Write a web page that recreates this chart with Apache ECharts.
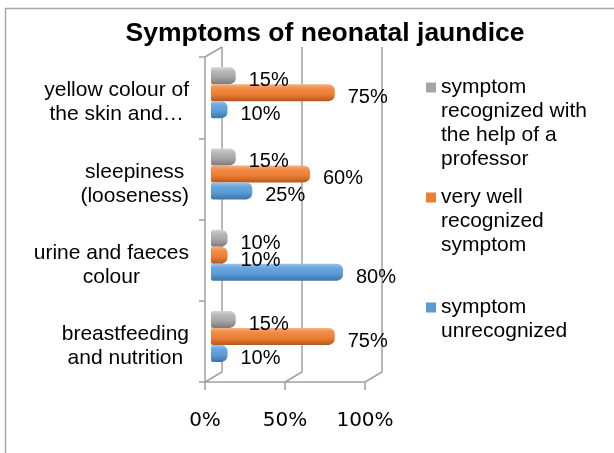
<!DOCTYPE html>
<html>
<head>
<meta charset="utf-8">
<title>Symptoms of neonatal jaundice</title>
<script src="https://cdn.jsdelivr.net/npm/echarts@6/dist/echarts.min.js"></script>
<style>
  html, body { margin: 0; padding: 0; background: #fff; }
  #chart { width: 614px; height: 453px; }
</style>
</head>
<body>
<div id="chart"></div>
<script>
// categories, bottom to top as the y axis counts them
const categories = [
  'breastfeeding\nand nutrition',
  'urine and faeces\ncolour',
  'sleepiness\n(looseness)',
  'yellow colour of\nthe skin and…'
]

const unrecognized = [10, 80, 25, 10]
const veryWell = [75, 10, 60, 75]
const withHelp = [15, 10, 15, 15]

const seriesNames = [
  'symptom recognized with the help of a professor',
  'very well recognized symptom',
  'symptom unrecognized'
]
const legendLines = [
  ['symptom', 'recognized with', 'the help of a', 'professor'],
  ['very well', 'recognized', 'symptom'],
  ['symptom', 'unrecognized']
]
const xTicks = [0, 50, 100]

const axisGray = '#a0a0a0'
const lineH = 24

const cylinder = (stops) => ({
  type: 'linear', x: 0, y: 0, x2: 0, y2: 1,
  colorStops: stops.map((c, i) => ({ offset: [0, 0.25, 0.6, 1][i], color: c }))
})

const makeBar = (name, data, flat, stops) => ({
  name,
  type: 'bar',
  xAxisIndex: 0,
  yAxisIndex: 0,
  data,
  color: flat,
  barWidth: 17,
  barGap: '0%',
  itemStyle: { color: cylinder(stops), borderRadius: [2, 6, 6, 2] },
  label: {
    show: true,
    position: 'right',
    distance: 13,
    offset: [0, 5],
    formatter: '{c}%',
    color: '#000',
    fontFamily: 'Liberation Sans',
    fontSize: 20
  }
})

// the legend text is centred on its icon, so blank lines in front push
// the first real line level with the icon
const makeLegend = (idx, iconY, color) => {
  const lines = legendLines[idx]
  const blanks = new Array(lines.length - 1).fill(' ')
  const total = blanks.length + lines.length
  return {
    orient: 'vertical',
    left: 426,
    top: iconY - (total * lineH) / 2,
    padding: 0,
    itemWidth: 10,
    itemHeight: 10,
    icon: 'rect',
    selectedMode: false,
    formatter: () => blanks.concat(lines).join('\n'),
    data: [{
      name: seriesNames[idx],
      itemStyle: { color },
      textStyle: {
        color: '#000',
        fontFamily: 'Liberation Sans',
        fontSize: 21,
        lineHeight: lineH
      }
    }]
  }
}

const chart = echarts.init(document.getElementById('chart'))

chart.setOption({
  backgroundColor: '#fff',
  animation: false,
  title: {
    text: 'Symptoms of neonatal jaundice',
    left: 320,
    textAlign: 'center',
    top: 15,
    textStyle: { fontFamily: 'Liberation Sans', fontWeight: 'bold', fontSize: 26.5, color: '#000' }
  },
  legend: [
    makeLegend(0, 87.5, '#a5a5a5'),
    makeLegend(1, 197.5, '#ed7d31'),
    makeLegend(2, 307.5, '#5b9bd5')
  ],
  grid: [
    // bars sit halfway into the depth of the 3D box
    { left: 211, top: 52, width: 165, height: 325 },
    // front axes
    { left: 205, top: 57, width: 160, height: 325 },
    // back wall
    { left: 222, top: 47, width: 160, height: 325 }
  ],
  xAxis: [
    { gridIndex: 0, type: 'value', min: 0, max: 100, show: false },
    {
      gridIndex: 1, type: 'value', min: 0, max: 100, interval: 50,
      axisLine: { show: true, lineStyle: { color: axisGray, width: 1.5 } },
      axisTick: { show: true, length: 8, lineStyle: { color: axisGray, width: 1.5 } },
      splitLine: { show: false },
      axisLabel: {
        margin: 29,
        color: '#000',
        fontFamily: 'DejaVu Sans',
        fontSize: 20,
        formatter: (v) => (xTicks.includes(v) ? v + '%' : '')
      }
    },
    {
      gridIndex: 2, type: 'value', min: 0, max: 100, interval: 50,
      axisLine: { show: false },
      axisTick: { show: false },
      axisLabel: { show: false },
      splitLine: { show: true, lineStyle: { color: axisGray, width: 1.5 } }
    }
  ],
  yAxis: [
    { gridIndex: 0, type: 'category', data: categories, show: false },
    {
      gridIndex: 1, type: 'category', data: categories,
      axisLine: { show: true, lineStyle: { color: axisGray, width: 1.5 } },
      axisTick: { show: true, length: 6, lineStyle: { color: axisGray, width: 1.5 } },
      axisLabel: {
        margin: 16,
        padding: [10, 0, 0, 0],
        color: '#000',
        fontFamily: 'Liberation Sans',
        fontSize: 21,
        lineHeight: lineH,
        formatter: (v) => v.split('\n').map((s) => '{c|' + s + '}').join('\n'),
        rich: { c: { align: 'center', fontFamily: 'Liberation Sans', fontSize: 21, lineHeight: lineH, color: '#000' } }
      }
    },
    { gridIndex: 2, type: 'category', data: categories, show: false }
  ],
  graphic: [
    {
      type: 'rect', z: -10, silent: true,
      shape: { x: 5.5, y: 8.5, width: 640, height: 500 },
      style: { fill: 'none', stroke: '#a6a6a6', lineWidth: 1.5 }
    },
    { type: 'line', silent: true, shape: { x1: 205, y1: 57, x2: 222, y2: 47 }, style: { stroke: axisGray, lineWidth: 1.5 } },
    { type: 'line', silent: true, shape: { x1: 205, y1: 382, x2: 222, y2: 372 }, style: { stroke: axisGray, lineWidth: 1.5 } },
    { type: 'line', silent: true, shape: { x1: 285, y1: 382, x2: 302, y2: 372 }, style: { stroke: axisGray, lineWidth: 1.5 } },
    { type: 'line', silent: true, shape: { x1: 365, y1: 382, x2: 382, y2: 372 }, style: { stroke: axisGray, lineWidth: 1.5 } }
  ],
  // first series is drawn at the top of each group
  series: [
    makeBar(seriesNames[0], withHelp, '#a5a5a5', ['#d6d6d6', '#b8b8b8', '#a5a5a5', '#7a7a7a']),
    makeBar(seriesNames[1], veryWell, '#ed7d31', ['#f7b080', '#f08c4a', '#ed7d31', '#b35a1d']),
    makeBar(seriesNames[2], unrecognized, '#5b9bd5', ['#9cc5ec', '#6aa6df', '#5b9bd5', '#3d74a8'])
  ]
})
</script>
</body>
</html>
